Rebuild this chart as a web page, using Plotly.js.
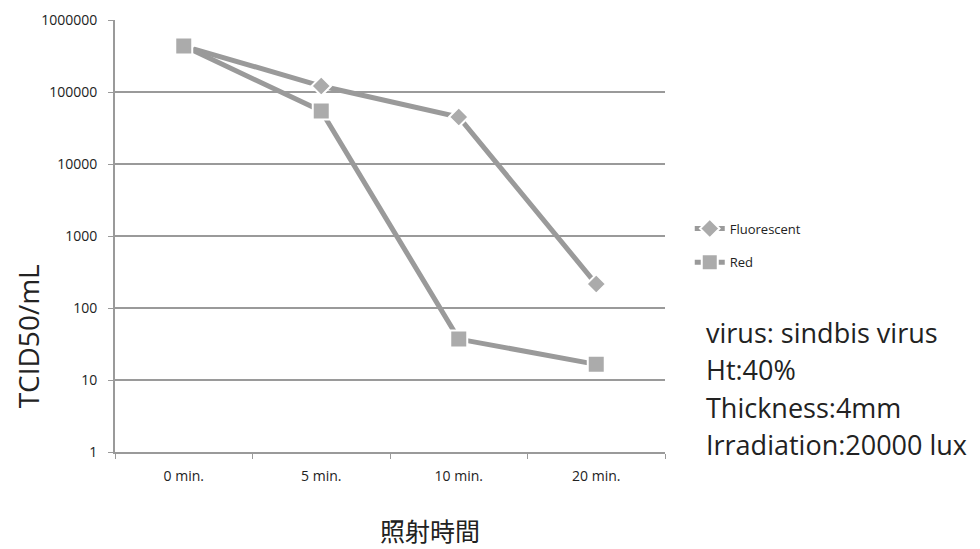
<!DOCTYPE html>
<html>
<head>
<meta charset="utf-8">
<script src="https://cdn.plot.ly/plotly-3.0.1.min.js"></script>
<style>html,body{margin:0;padding:0;background:#fff;}#chart{width:980px;height:549px;}</style>
</head>
<body>
<div id="chart"></div>
<script>
const categories = ["0 min.", "5 min.", "10 min.", "20 min."];
const fluorescent = [435000, 121000, 45000, 215];
const red = [435000, 54500, 37, 16.5];
const yTickVals = [1, 10, 100, 1000, 10000, 100000, 1000000];
const yTickText = ["1", "10", "100", "1000", "10000", "100000", "1000000"];
const infoLines = ["virus: sindbis virus", "Ht:40%", "Thickness:4mm", "Irradiation:20000 lux"];

const gray = "#9a9a9a";
const traces = [
  {
    x: categories, y: fluorescent, name: "Fluorescent", legendgroup: "f", type: "scatter", mode: "lines+markers",
    line: {color: gray, width: 5},
    marker: {symbol: "diamond", size: 15, color: "#ababab", line: {color: "#ffffff", width: 2}}
  },
  {
    x: categories, y: red, name: "Red", legendgroup: "r", type: "scatter", mode: "lines+markers",
    line: {color: gray, width: 5},
    marker: {symbol: "square", size: 17, color: "#ababab", line: {color: "#ffffff", width: 2}}
  }
];

const infoY = [0.277, 0.19, 0.102, 0.018];
const annotations = [
  {
    text: "TCID50/mL", xref: "paper", yref: "paper", x: -0.158, y: 0.268, xanchor: "center", yanchor: "middle",
    textangle: -90, showarrow: false, font: {family: "Open Sans, sans-serif", size: 28, color: "#222"}
  },
  {
    text: "照射時間", xref: "paper", yref: "paper", x: 0.573, y: -0.18, xanchor: "center", yanchor: "middle",
    showarrow: false, font: {family: "Noto Sans CJK JP", size: 25, color: "#222"}
  }
].concat(infoLines.map((t, i) => ({
  text: t, xref: "paper", yref: "paper", x: 1.07, y: infoY[i], xanchor: "left", yanchor: "middle",
  align: "left", showarrow: false, font: {family: "Open Sans, sans-serif", size: 27, color: "#222"}
})));

const layout = {
  width: 980, height: 549,
  margin: {l: 115, r: 315, t: 20, b: 97},
  paper_bgcolor: "#fff", plot_bgcolor: "#fff",
  showlegend: true,
  legend: {x: 1.045, y: 0.478, xanchor: "left", yanchor: "middle", traceorder: "grouped", tracegroupgap: 14,
    font: {family: "Open Sans, sans-serif", size: 13, color: "#222"}, itemwidth: 30},
  xaxis: {
    type: "category", range: [-0.5, 3.5], tickson: "boundaries", ticks: "outside", ticklen: 5, tickcolor: gray,
    showline: true, linecolor: gray, linewidth: 2, showgrid: false, ticklabelstandoff: 10,
    tickfont: {family: "Liberation Sans Narrow, Open Sans, sans-serif", size: 14, color: "#222"}
  },
  yaxis: {
    type: "log", range: [0, 6], tickvals: yTickVals, ticktext: yTickText,
    ticks: "outside", ticklen: 5, tickcolor: gray, ticklabelstandoff: 8,
    showline: true, linecolor: gray, linewidth: 2,
    showgrid: true, gridcolor: gray, gridwidth: 2, zeroline: false,
    tickfont: {family: "Open Sans, sans-serif", size: 14, color: "#222"}
  },
  annotations: annotations
};

Plotly.newPlot("chart", traces, layout, {displayModeBar: false, staticPlot: true});
</script>
</body>
</html>
